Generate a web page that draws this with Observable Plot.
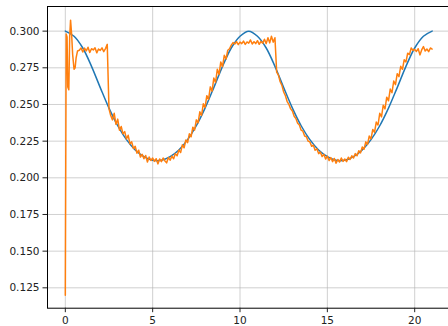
<!DOCTYPE html>
<html>
<head>
<meta charset="utf-8">
<script src="https://cdn.jsdelivr.net/npm/d3@7"></script>
<script src="https://cdn.jsdelivr.net/npm/@observablehq/plot@0.6"></script>
<style>
html, body { margin: 0; padding: 0; background: white; overflow: hidden; }
</style>
</head>
<body>
<div id="chart"></div>
<script>
// Tick values
const xTicks = [0, 5, 10, 15, 20];
const yTicks = [0.125, 0.150, 0.175, 0.200, 0.225, 0.250, 0.275, 0.300];

// Blue series (reference signal)
const blueTime = [0, 0.5, 1, 1.5, 2, 2.5, 3, 3.5, 4, 4.5, 5, 5.5, 6, 6.5, 7, 7.5, 8, 8.5, 9, 9.5, 10,
  10.5, 11, 11.5, 12, 12.5, 13, 13.5, 14, 14.5, 15, 15.5, 16, 16.5, 17, 17.5, 18, 18.5, 19, 19.5, 20, 20.5, 21];
const blueValue = [0.3000, 0.2965, 0.2885, 0.2760, 0.2615, 0.2475, 0.2355, 0.2260, 0.2190, 0.2145, 0.2120,
  0.2120, 0.2145, 0.2190, 0.2260, 0.2355, 0.2475, 0.2615, 0.2760, 0.2885, 0.2965,
  0.3000, 0.2965, 0.2885, 0.2760, 0.2615, 0.2475, 0.2355, 0.2260, 0.2190, 0.2145,
  0.2120, 0.2120, 0.2145, 0.2190, 0.2260, 0.2355, 0.2475, 0.2615, 0.2760, 0.2885, 0.2965, 0.3000];

// Orange series: start-up transient
const orangeStartTime = [0, 0.05, 0.1, 0.14, 0.2, 0.25, 0.3, 0.36, 0.42, 0.5, 0.56, 0.62, 0.7];
const orangeStartValue = [0.120, 0.298, 0.296, 0.262, 0.260, 0.296, 0.3075, 0.298, 0.284, 0.274, 0.275, 0.282, 0.2865];

// Orange series: samples from t = 0.8 to 21.0, every 0.1
const orangeT0 = 0.8, orangeDt = 0.1;
const orangeValue = [
  0.2870, 0.2885, 0.2858, 0.2884, 0.2866, 0.2890, 0.2855, 0.2880, 0.2872, 0.2887,
  0.2852, 0.2878, 0.2869, 0.2886, 0.2860, 0.2881, 0.2910, 0.2470, 0.2425, 0.2395,
  0.2440, 0.2365, 0.2400, 0.2325, 0.2350, 0.2300, 0.2315, 0.2265, 0.2290, 0.2232,
  0.2245, 0.2200, 0.2215, 0.2168, 0.2188, 0.2142, 0.2160, 0.2130, 0.2152, 0.2108,
  0.2142, 0.2118, 0.2135, 0.2112, 0.2130, 0.2095, 0.2128, 0.2110, 0.2135, 0.2115,
  0.2102, 0.2138, 0.2120, 0.2148, 0.2130, 0.2165, 0.2150, 0.2190, 0.2172, 0.2225,
  0.2205, 0.2258, 0.2240, 0.2300, 0.2280, 0.2345, 0.2325, 0.2395, 0.2375, 0.2450,
  0.2425, 0.2505, 0.2480, 0.2560, 0.2535, 0.2620, 0.2590, 0.2680, 0.2650, 0.2740,
  0.2705, 0.2790, 0.2758, 0.2835, 0.2810, 0.2870, 0.2880, 0.2905, 0.2922, 0.2912,
  0.2928, 0.2908, 0.2925, 0.2915, 0.2932, 0.2910, 0.2926, 0.2918, 0.2940, 0.2912,
  0.2928, 0.2915, 0.2935, 0.2910, 0.2930, 0.2918, 0.2945, 0.2915, 0.2955, 0.2920,
  0.2965, 0.2925, 0.2955, 0.2720, 0.2700, 0.2655, 0.2630, 0.2585, 0.2560, 0.2520,
  0.2500, 0.2470, 0.2455, 0.2420, 0.2405, 0.2372, 0.2360, 0.2325, 0.2318, 0.2285,
  0.2280, 0.2250, 0.2245, 0.2215, 0.2222, 0.2188, 0.2198, 0.2165, 0.2175, 0.2145,
  0.2160, 0.2128, 0.2148, 0.2118, 0.2138, 0.2110, 0.2132, 0.2100, 0.2125, 0.2108,
  0.2135, 0.2112, 0.2128, 0.2110, 0.2140, 0.2125, 0.2150, 0.2135, 0.2165, 0.2150,
  0.2185, 0.2170, 0.2210, 0.2195, 0.2245, 0.2228, 0.2285, 0.2265, 0.2330, 0.2310,
  0.2380, 0.2360, 0.2440, 0.2415, 0.2495, 0.2470, 0.2550, 0.2525, 0.2605, 0.2580,
  0.2660, 0.2635, 0.2710, 0.2690, 0.2760, 0.2740, 0.2805, 0.2790, 0.2850, 0.2840,
  0.2885, 0.2870, 0.2875, 0.2862, 0.2880, 0.2838, 0.2872, 0.2895, 0.2865, 0.2878,
  0.2860, 0.2885, 0.2878
];

const blue = blueTime.map((t, i) => ({t, v: blueValue[i]}));
const orange = orangeStartTime.map((t, i) => ({t, v: orangeStartValue[i]}))
  .concat(orangeValue.map((v, i) => ({t: Math.round((orangeT0 + i * orangeDt) * 100) / 100, v})));

const grid = {stroke: "#b0b0b0", strokeOpacity: 0.6, strokeWidth: 1};

const chart = Plot.plot({
  width: 448,
  height: 326,
  marginLeft: 47,
  marginTop: 6,
  marginBottom: 18.3,
  marginRight: -2,
  x: {domain: [-1.02, 22.05]},
  y: {domain: [0.1111, 0.3168]},
  style: {fontFamily: "DejaVu Sans", fontSize: "10.5px", color: "#222", background: "white"},
  marks: [
    Plot.gridY(yTicks, grid),
    Plot.gridX(xTicks, grid),
    Plot.line(blue, {x: "t", y: "v", stroke: "#1f77b4", strokeWidth: 1.5, curve: "catmull-rom"}),
    Plot.line(orange, {x: "t", y: "v", stroke: "#ff7f0e", strokeWidth: 1.5}),
    Plot.frame({stroke: "#000", strokeWidth: 1}),
    Plot.axisX(xTicks, {tickSize: 4.5, tickPadding: 4, label: null, tickFormat: d => String(d)}),
    Plot.axisY(yTicks, {tickSize: 4.5, tickPadding: 3.5, label: null, tickFormat: d3.format(".3f")})
  ]
});
document.getElementById("chart").appendChild(chart);
</script>
</body>
</html>
